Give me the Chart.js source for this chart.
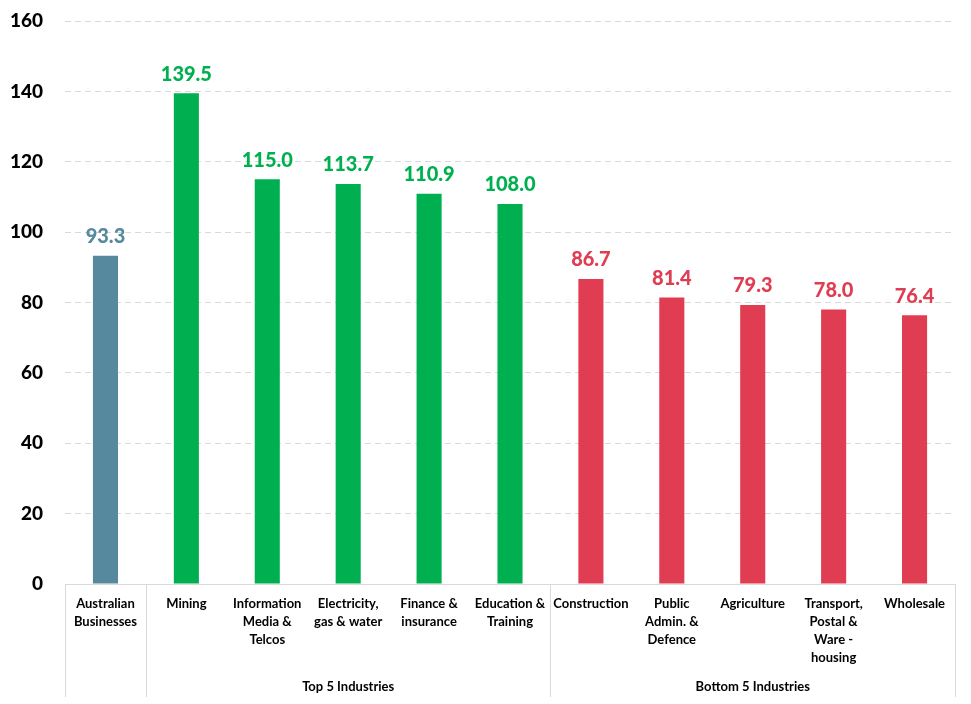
<!DOCTYPE html>
<html><head><meta charset="utf-8">
<script src="https://cdn.jsdelivr.net/npm/chart.js@4/dist/chart.umd.min.js"></script>
<style>html,body{margin:0;padding:0;background:#fff}#wrap{width:971px;height:704px;position:relative}</style>
</head><body><div id="wrap"><canvas id="c"></canvas></div>
<script>
const categories = [
  ["Australian","Businesses"],
  ["Mining"],
  ["Information","Media &","Telcos"],
  ["Electricity,","gas & water"],
  ["Finance &","insurance"],
  ["Education &","Training"],
  ["Construction"],
  ["Public","Admin. &","Defence"],
  ["Agriculture"],
  ["Transport,","Postal &","Ware -","housing"],
  ["Wholesale"]
];
const values = [93.3, 139.5, 115.0, 113.7, 110.9, 108.0, 86.7, 81.4, 79.3, 78.0, 76.4];
const groups = [
  {label: "", from: 0, to: 0},
  {label: "Top 5 Industries", from: 1, to: 5},
  {label: "Bottom 5 Industries", from: 6, to: 10}
];
const yTicks = [0, 20, 40, 60, 80, 100, 120, 140, 160];

const BLUE = "#56889E", GREEN = "#00B050", RED = "#E03C52";
const colors = values.map((v, i) => i === 0 ? BLUE : (i <= 5 ? GREEN : RED));
const FONT = "Lato, 'Open Sans', sans-serif";

const labelsPlugin = {
  id: "labelsPlugin",
  afterDatasetsDraw(chart) {
    const ctx = chart.ctx;
    const meta = chart.getDatasetMeta(0);
    ctx.save();
    ctx.font = "900 20px " + FONT;
    ctx.textAlign = "center";
    ctx.textBaseline = "middle";
    meta.data.forEach((bar, i) => {
      ctx.fillStyle = colors[i];
      ctx.fillText(values[i].toFixed(1), bar.x, bar.y - 19);
    });
    ctx.restore();
  },
  afterDraw(chart) {
    const ctx = chart.ctx;
    const x = chart.scales.x;
    const area = chart.chartArea;
    const bottom = area.bottom;
    const step = x.getPixelForValue(1) - x.getPixelForValue(0);
    ctx.save();
    ctx.strokeStyle = "#d9d9d9";
    ctx.lineWidth = 1;
    ctx.beginPath();
    ctx.moveTo(area.left, bottom + 0.5);
    ctx.lineTo(area.right, bottom + 0.5);
    const seps = [area.left];
    groups.forEach(g => seps.push(x.getPixelForValue(g.to) + step / 2));
    seps.forEach(sx => {
      const px = Math.round(sx) + 0.5;
      ctx.moveTo(px, bottom);
      ctx.lineTo(px, bottom + 113);
    });
    ctx.stroke();
    ctx.fillStyle = "#000";
    ctx.font = "bold 13px " + FONT;
    ctx.textAlign = "center";
    ctx.textBaseline = "middle";
    categories.forEach((lines, i) => {
      const cx = x.getPixelForValue(i);
      lines.forEach((t, j) => ctx.fillText(t, cx, bottom + 20 + j * 18));
    });
    groups.forEach(g => {
      if (!g.label) return;
      const cx = (x.getPixelForValue(g.from) + x.getPixelForValue(g.to)) / 2;
      ctx.fillText(g.label, cx, bottom + 103);
    });
    ctx.restore();
  }
};

new Chart(document.getElementById("c"), {
  type: "bar",
  data: {
    labels: categories.map(c => c.join(" ")),
    datasets: [{
      data: values,
      backgroundColor: colors,
      borderWidth: 0,
      barPercentage: 0.31,
      categoryPercentage: 1.0
    }]
  },
  options: {
    responsive: true,
    maintainAspectRatio: false,
    animation: false,
    layout: {padding: {top: 21, right: 16, bottom: 120, left: 0}},
    plugins: {legend: {display: false}, tooltip: {enabled: false}},
    scales: {
      x: {
        grid: {display: false},
        border: {display: false},
        ticks: {display: false},
        afterFit(scale) { scale.height = 0; scale.paddingLeft = 0; scale.paddingRight = 0; }
      },
      y: {
        min: 0, max: 160,
        afterBuildTicks(scale) { scale.ticks = yTicks.map(v => ({value: v})); },
        afterFit(scale) { scale.width = 65; scale.paddingTop = 0; scale.paddingBottom = 0; },
        grid: {color: "#d9d9d9", lineWidth: 1, drawTicks: false},
        border: {display: false, dash: [6, 4]},
        ticks: {
          color: "#000",
          font: {family: FONT, size: 19, weight: "900"},
          padding: 22
        }
      }
    }
  },
  plugins: [labelsPlugin]
});
</script>
</body></html>
